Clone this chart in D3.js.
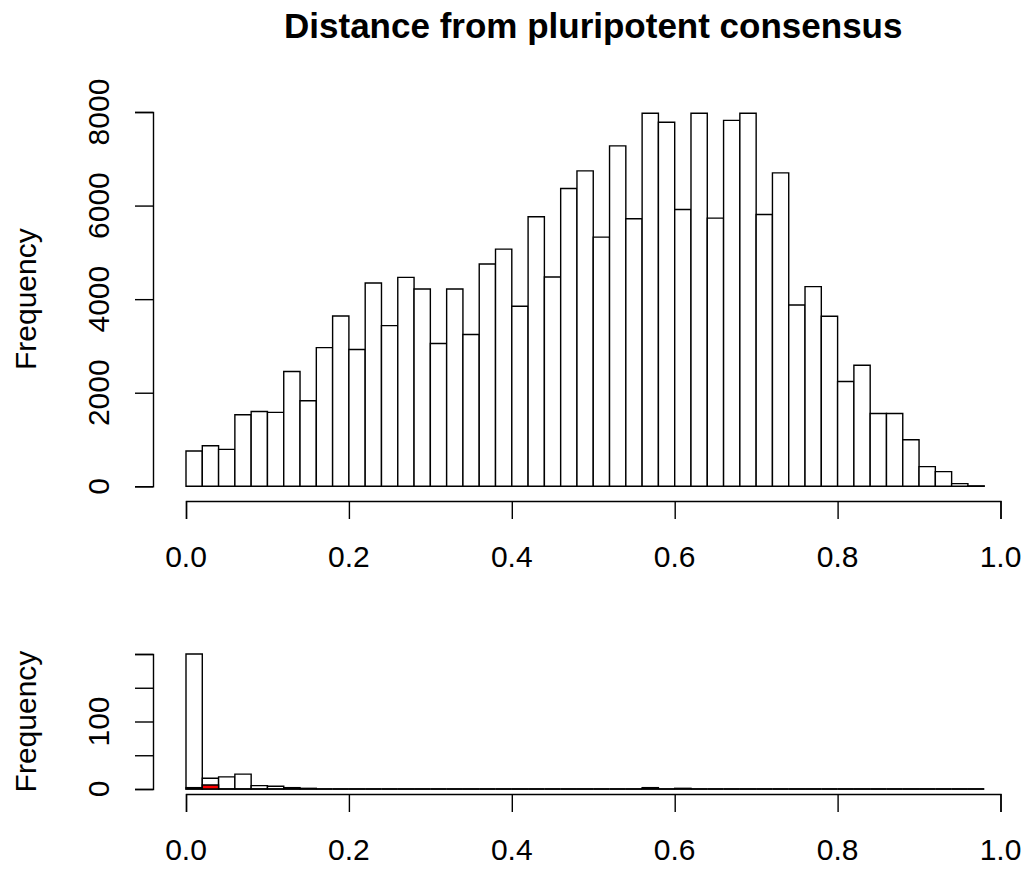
<!DOCTYPE html>
<html>
<head>
<meta charset="utf-8">
<script src="https://cdn.jsdelivr.net/npm/d3@7"></script>
<style>
    body { margin: 0; background: #fff; }
    svg { display: block; font-family: "Liberation Sans", Arial, Helvetica, sans-serif; }
    .bar { stroke: #000; stroke-width: 1.4; }
    .axis path, .axis line { stroke: #000; stroke-width: 1.4; }
    .label { font-size: 30px; fill: #000; }
</style>
</head>
<body>
<div id="chart"></div>
<script>
// bins of 0.02 from 0 to 0.98
const binWidth = 0.02;
const xTicks = [0, 0.2, 0.4, 0.6, 0.8, 1.0];

// top panel: all distances
const topCounts = [
    754, 868, 789, 1529, 1600, 1579, 2453, 1828, 2965, 3641,
    2923, 4345, 3435, 4466, 4217, 3051, 4217, 3243, 4750, 5070,
    3847, 5760, 4473, 6364, 6741, 5326, 7275, 5717, 7972, 7780,
    5916, 7972, 5732, 7822, 7972, 5810, 6699, 3876, 4267, 3634,
    2240, 2588, 1557, 1557, 996, 420, 313, 58, 10
];
const topYTicks = [0, 2000, 4000, 6000, 8000];

// bottom panel: subset, with highlighted overlay in red
const bottomCounts = [
    200, 16, 18, 22, 5, 4, 2, 1, 0, 0,
    0, 0, 0, 0, 0, 0, 0, 0, 0, 0,
    0, 0, 0, 0, 0, 0, 0, 0, 2, 0,
    1, 0, 0, 0, 0, 0, 0, 0, 0, 0,
    0, 0, 0, 0, 0, 0, 0, 0, 0
];
const overlayCounts = [
    2, 6, 0, 0, 0, 0, 0, 0, 0, 0,
    0, 0, 0, 0, 0, 0, 0, 0, 0, 0,
    0, 0, 0, 0, 0, 0, 0, 0, 0, 0,
    0, 0, 0, 0, 0, 0, 0, 0, 0, 0,
    0, 0, 0, 0, 0, 0, 0, 0, 0
];
const bottomYTicks = [0, 50, 100, 150, 200];
const bottomYLabels = [0, 100];

const title = 'Distance from pluripotent consensus';

const width = 1029, height = 869;

const svg = d3.select('#chart').append('svg')
    .attr('width', width)
    .attr('height', height)
    .attr('viewBox', '0 0 ' + width + ' ' + height);

svg.append('rect').attr('width', width).attr('height', height).attr('fill', '#fff');

const xScale = d3.scaleLinear().domain([0, 1]).range([186, 1000.5]);

// draws one histogram panel
function panel(cfg) {
    const yScale = d3.scaleLinear().domain(cfg.ydomain).range([cfg.base, cfg.top]);
    const g = svg.append('g');

    // bars as paths so that zero counts still show as a line
    function bars(counts, fill) {
        g.append('g').selectAll('path')
            .data(counts).enter()
            .append('path')
            .attr('class', 'bar')
            .attr('fill', fill)
            .attr('d', function(d, i) {
                const x0 = xScale(i * binWidth), x1 = xScale((i + 1) * binWidth);
                const y0 = yScale(0), y1 = yScale(d);
                return 'M' + x0 + ',' + y0 + 'V' + y1 + 'H' + x1 + 'V' + y0 + 'Z';
            });
    }
    bars(cfg.counts, '#fff');
    if (cfg.overlay) bars(cfg.overlay, '#ff0000');

    // x axis
    g.append('g').attr('class', 'axis')
        .attr('transform', 'translate(0,' + cfg.xaxisY + ')')
        .call(d3.axisBottom(xScale).tickValues(xTicks).tickSizeOuter(0).tickSize(18).tickFormat(''));
    g.selectAll('.xlab')
        .data(xTicks).enter()
        .append('text')
        .attr('class', 'label xlab')
        .attr('text-anchor', 'middle')
        .attr('x', function(d) { return xScale(d); })
        .attr('y', cfg.xaxisY + 66)
        .text(d3.format('.1f'));

    // y axis
    g.append('g').attr('class', 'axis')
        .attr('transform', 'translate(153,0)')
        .call(d3.axisLeft(yScale).tickValues(cfg.yticks).tickSizeOuter(0).tickSize(18).tickFormat(''));
    g.selectAll('.ylab')
        .data(cfg.ylabels).enter()
        .append('text')
        .attr('class', 'label ylab')
        .attr('text-anchor', 'middle')
        .attr('transform', function(d) { return 'translate(109,' + yScale(d) + ') rotate(-90)'; })
        .text(function(d) { return d; });

    g.append('text')
        .attr('class', 'label')
        .attr('text-anchor', 'middle')
        .attr('transform', 'translate(36,' + ((cfg.base + cfg.top) / 2) + ') rotate(-90)')
        .text('Frequency');

    g.selectAll('.axis .domain').attr('fill', 'none');
}

panel({
    counts: topCounts,
    ydomain: [0, 8000],
    base: 486.3, top: 112,
    yticks: topYTicks, ylabels: topYTicks,
    xaxisY: 501
});

panel({
    counts: bottomCounts,
    overlay: overlayCounts,
    ydomain: [0, 200],
    base: 789, top: 654,
    yticks: bottomYTicks, ylabels: bottomYLabels,
    xaxisY: 794
});

svg.append('text')
    .attr('x', (xScale(0) + xScale(1)) / 2)
    .attr('y', 38)
    .attr('text-anchor', 'middle')
    .attr('font-size', '35px')
    .attr('font-weight', 'bold')
    .text(title);
</script>
</body>
</html>
